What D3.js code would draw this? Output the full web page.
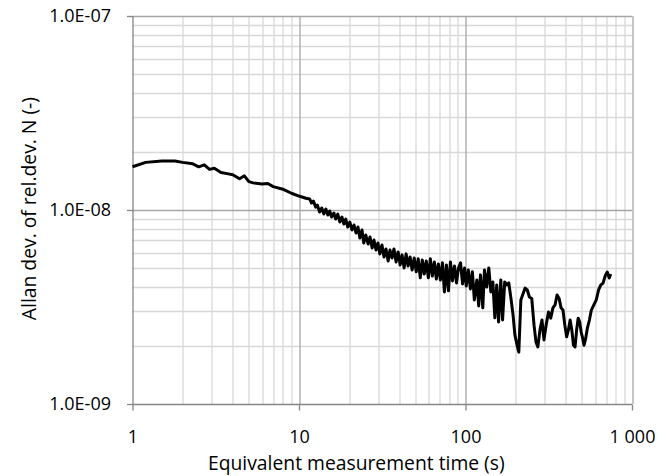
<!DOCTYPE html>
<html>
<head>
<meta charset="utf-8">
<script src="https://cdn.jsdelivr.net/npm/d3@7"></script>
<style>
  body { margin: 0; background: #fff; }
  text { font-family: "Open Sans", sans-serif; fill: #000; }
</style>
</head>
<body>
<div id="chart-area"></div>
<script>
// averaging time tau (s)
var tau = [1, 1.2, 1.5, 1.8, 2, 2.3, 2.5, 2.7, 2.9, 3.1, 3.4, 3.7, 4, 4.4, 4.7, 5, 5.3, 6, 6.5, 7, 8, 9,
  10, 11,
  11.6, 11.9, 12.2, 12.6, 12.9, 13.3, 13.7, 14.1, 14.5, 14.9, 15.3, 15.7, 16.2, 16.6, 17.1, 17.6, 18.1, 18.6,
  19.1, 19.6, 20.2, 20.8, 21.4, 22.0, 22.6, 23.2, 23.9, 24.5, 25.2, 26.0, 26.7, 27.5, 28.2, 29.0, 29.8, 30.6,
  31.5, 32.4, 33.3, 34.3, 35.2, 36.2, 37.2, 38.3, 39.4, 40.5, 41.6, 42.8, 44.0, 45.2, 46.5, 47.8, 49.2, 50.6,
  52.0, 53.5, 55.0, 56.5, 58.1, 59.8, 61.5, 63.2, 65.0, 66.8, 68.7, 70.7, 72.7, 74.7, 76.8, 79.0, 81.2, 83.5,
  85.9, 88.3, 90.8, 93.4, 96.0, 98.7, 101, 104, 107, 110, 113, 117, 120, 123, 127, 130, 134, 138, 142, 146,
  150, 154, 158, 163, 167, 172, 177, 182, 188, 193, 198, 204, 209, 215,
  228, 235, 242, 250, 258, 265, 272, 280, 288, 296, 305, 315,
  325, 335, 345, 355, 365, 375, 385, 395, 405, 415, 425, 435, 445, 455, 465, 475, 485, 495, 505, 515, 525,
  540, 555, 570, 590, 610, 630, 650, 670, 690, 710, 730, 745];
// Allan deviation, in units of 1e-9
var adev = [16.7, 17.6, 17.9, 17.9, 17.6, 17.3, 16.7, 17.1, 16.2, 16.4, 15.6, 15.4, 15.2, 14.5, 15.0, 14.0, 13.8, 13.6, 13.7, 13.2, 12.8, 12.2,
  11.8, 11.5,
  11.39, 10.86, 11.12, 10.35, 10.60, 9.76, 10.23, 9.53, 10.11, 9.42, 9.88, 9.20, 9.65, 8.98, 9.53, 8.67, 9.20, 8.47,
  8.98, 8.17, 8.67, 7.89, 8.37, 7.61, 8.17, 7.17, 7.89, 6.76, 7.43, 6.68, 7.26, 6.37, 7.00, 6.22, 6.76, 5.94,
  6.60, 5.73, 6.30, 5.46, 6.22, 5.66, 6.30, 5.40, 6.08, 5.21, 5.87, 5.03, 5.94, 5.15, 5.73, 4.91, 5.66, 4.80,
  5.60, 4.47, 5.53, 4.68, 5.46, 4.47, 5.60, 4.57, 5.40, 4.41, 5.27, 4.36, 5.34, 3.78, 5.21, 3.83, 5.40, 4.31,
  5.15, 4.21, 5.03, 5.34, 4.16, 5.03, 4.06, 4.91, 3.92, 4.80, 3.44, 4.36, 3.20, 4.63, 3.13, 4.91, 4.01, 5.03, 3.78, 4.26,
  2.78, 4.11, 2.65, 4.36, 2.71, 4.26, 4.11, 4.21, 3.44, 2.88, 2.27, 2.01, 1.85, 3.44,
  3.96, 3.87, 3.56, 3.50, 2.55, 2.09, 1.97, 2.41, 2.71, 2.14, 2.55, 2.98,
  2.77, 3.13, 3.24, 3.65, 3.50, 3.13, 3.05, 2.55, 2.22, 2.41, 2.71, 2.41, 2.01, 1.97, 2.41, 2.77, 2.65, 2.35, 2.19, 2.01, 2.14,
  2.47, 2.71, 3.05, 3.24, 3.44, 3.87, 4.11, 4.20, 4.57, 4.79, 4.46, 4.68];

var xTicks = [1, 10, 100, 1000];
var yTicks = [1e-9, 1e-8, 1e-7];
var xTickLabels = ["1", "10", "100", "1 000"];
var yTickLabels = ["1.0E-09", "1.0E-08", "1.0E-07"];

var margin = { left: 132.5, right: 36, top: 16, bottom: 72 };
var W = 668, H = 476;
var width = W - margin.left - margin.right,
    height = H - margin.top - margin.bottom;

var svg = d3.select("#chart-area").append("svg")
    .attr("width", W)
    .attr("height", H);
var g = svg.append("g")
    .attr("transform", "translate(" + margin.left + "," + margin.top + ")");

var x = d3.scaleLog().domain([1, 1000]).range([0, width]);
var y = d3.scaleLog().domain([1e-9, 1e-7]).range([height, 0]);

// minor grid
var xMinor = [], yMinor = [];
[1, 10, 100].forEach(function(d) {
  for (var k = 2; k <= 9; k++) xMinor.push(d * k);
});
[1e-9, 1e-8].forEach(function(d) {
  for (var k = 2; k <= 9; k++) yMinor.push(d * k);
});

g.selectAll(".xminor").data(xMinor).enter().append("line")
    .attr("x1", function(d) { return Math.round(x(d)) + 0.5; })
    .attr("x2", function(d) { return Math.round(x(d)) + 0.5; })
    .attr("y1", 0).attr("y2", height)
    .attr("stroke", "#d9d9d9").attr("stroke-width", 1.3);
g.selectAll(".yminor").data(yMinor).enter().append("line")
    .attr("y1", function(d) { return Math.round(y(d)) + 0.5; })
    .attr("y2", function(d) { return Math.round(y(d)) + 0.5; })
    .attr("x1", 0).attr("x2", width)
    .attr("stroke", "#d9d9d9").attr("stroke-width", 1.3);

// major grid
g.selectAll(".xmajor").data(xTicks.slice(1)).enter().append("line")
    .attr("x1", function(d) { return Math.round(x(d)) + 0.5; })
    .attr("x2", function(d) { return Math.round(x(d)) + 0.5; })
    .attr("y1", 0).attr("y2", height)
    .attr("stroke", "#a6a6a6").attr("stroke-width", 1.3);
g.selectAll(".ymajor").data(yTicks.slice(1)).enter().append("line")
    .attr("y1", function(d) { return Math.round(y(d)) + 0.5; })
    .attr("y2", function(d) { return Math.round(y(d)) + 0.5; })
    .attr("x1", 0).attr("x2", width)
    .attr("stroke", "#a6a6a6").attr("stroke-width", 1.3);

// axes
var xAxis = d3.axisBottom(x)
    .tickValues(xTicks)
    .tickSize(6)
    .tickFormat(function(d, i) { return xTickLabels[i]; });
var gx = g.append("g")
    .attr("transform", "translate(0," + (height + 0.5) + ")")
    .call(xAxis);
gx.select(".domain").remove();
gx.append("line").attr("x1", 0).attr("x2", width).attr("stroke", "#868686").attr("stroke-width", 1.3);
gx.selectAll(".tick line").attr("stroke", "#868686").attr("stroke-width", 1.3);
gx.selectAll(".tick text")
    .attr("y", 26)
    .attr("dy", "0.71em")
    .attr("font-size", "18px")
    .style("font-family", "'Open Sans', sans-serif");

var yAxis = d3.axisLeft(y)
    .tickValues(yTicks)
    .tickSize(6)
    .tickFormat(function(d, i) { return yTickLabels[i]; });
var gy = g.append("g")
    .attr("transform", "translate(0.5,0)")
    .call(yAxis);
gy.select(".domain").remove();
gy.append("line").attr("y1", 0).attr("y2", height).attr("stroke", "#868686").attr("stroke-width", 1.3);
gy.selectAll(".tick line").attr("stroke", "#868686").attr("stroke-width", 1.3);
gy.selectAll(".tick text")
    .attr("x", -22)
    .attr("font-size", "18px")
    .style("font-family", "'Open Sans', sans-serif");

// data line
var data = tau.map(function(t, i) { return { t: t, v: adev[i] * 1e-9 }; });
var line = d3.line()
    .x(function(d) { return x(d.t); })
    .y(function(d) { return y(d.v); });
g.append("path")
    .datum(data)
    .attr("fill", "none")
    .attr("stroke", "#000")
    .attr("stroke-width", 3)
    .attr("stroke-linejoin", "round")
    .attr("d", line);

// titles
var xTitle = svg.append("text")
    .attr("x", 208)
    .attr("y", 470)
    .attr("text-anchor", "start")
    .attr("font-size", "18px")
    .text("Equivalent measurement time (s)");
// fit title to the width it has in the original
var fs = 18 * 297 / xTitle.node().getComputedTextLength();
xTitle.attr("font-size", fs + "px");

svg.append("text")
    .attr("transform", "rotate(-90)")
    .attr("x", -97)
    .attr("y", 36)
    .attr("text-anchor", "end")
    .attr("font-size", fs + "px")
    .text("Allan dev. of rel.dev. N (-)");
</script>
</body>
</html>
